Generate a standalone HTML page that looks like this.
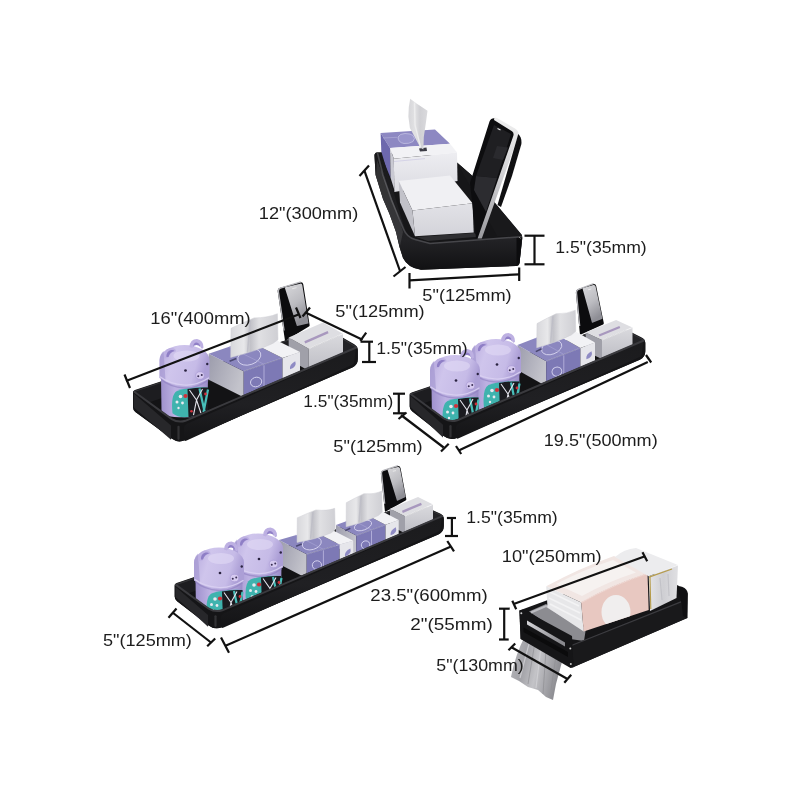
<!DOCTYPE html>
<html><head><meta charset="utf-8"><title>Shelf dimensions</title>
<style>
html,body{margin:0;padding:0;background:#fff;}
svg{display:block;}
text{font-family:"Liberation Sans",sans-serif;font-size:16.6px;fill:#1c1c1c;}
.dim line{stroke:#111;stroke-width:2.2;stroke-linecap:butt;}
</style></head>
<body>
<svg width="800" height="800" viewBox="0 0 800 800">
<defs>
<linearGradient id="g1front" x1="0" y1="0" x2="0" y2="1"><stop offset="0" stop-color="#ededf1"/><stop offset="1" stop-color="#dcdce2"/></linearGradient>
<linearGradient id="g1front2" x1="0" y1="0" x2="0" y2="1"><stop offset="0" stop-color="#e2e2e7"/><stop offset="1" stop-color="#d3d3d9"/></linearGradient>
<linearGradient id="g1tissue" x1="0" y1="0" x2="1" y2="0"><stop offset="0" stop-color="#d6d6d9"/><stop offset="0.35" stop-color="#e2e2e4"/><stop offset="0.6" stop-color="#d0d0d4"/><stop offset="1" stop-color="#dadadd"/></linearGradient>
<linearGradient id="silver" x1="0" y1="0" x2="0" y2="1"><stop offset="0" stop-color="#f0f0f0"/><stop offset="0.5" stop-color="#cfcfd2"/><stop offset="1" stop-color="#9a9a9e"/></linearGradient>
<linearGradient id="g1trayfront" x1="0" y1="0" x2="0" y2="1"><stop offset="0" stop-color="#19191b"/><stop offset="0.75" stop-color="#222225"/><stop offset="1" stop-color="#111113"/></linearGradient>
<linearGradient id="bag" x1="0" y1="0" x2="1" y2="0.3"><stop offset="0" stop-color="#b9b9bd"/><stop offset="0.35" stop-color="#a2a2a7"/><stop offset="0.6" stop-color="#c3c3c7"/><stop offset="1" stop-color="#8f8f94"/></linearGradient>
<linearGradient id="pack" x1="0" y1="0" x2="1" y2="0"><stop offset="0" stop-color="#e4e4e6"/><stop offset="0.5" stop-color="#cfcfd3"/><stop offset="1" stop-color="#e0e0e3"/></linearGradient>
<linearGradient id="bar" x1="0" y1="0" x2="1" y2="0.5"><stop offset="0" stop-color="#d8d8dc"/><stop offset="1" stop-color="#8a8a8f"/></linearGradient>

<linearGradient id="trayface" x1="0" y1="0" x2="0" y2="1"><stop offset="0" stop-color="#1b1b1d"/><stop offset="0.6" stop-color="#202023"/><stop offset="1" stop-color="#141416"/></linearGradient>
<linearGradient id="boxleft" x1="0" y1="0" x2="1" y2="0.4"><stop offset="0" stop-color="#9c9cac"/><stop offset="1" stop-color="#c3c3cb"/></linearGradient>
<linearGradient id="sbfront" x1="0" y1="0" x2="0" y2="1"><stop offset="0" stop-color="#dadade"/><stop offset="1" stop-color="#bebec5"/></linearGradient>
<linearGradient id="paper" x1="0" y1="0" x2="1" y2="0"><stop offset="0" stop-color="#d8d8dc"/><stop offset="0.28" stop-color="#e8e8ea"/><stop offset="0.42" stop-color="#c2c2c8"/><stop offset="0.6" stop-color="#e0e0e3"/><stop offset="1" stop-color="#cfcfd4"/></linearGradient>
<linearGradient id="pigbody" x1="0" y1="0" x2="1" y2="0"><stop offset="0" stop-color="#9f91cd"/><stop offset="0.3" stop-color="#bdb1e2"/><stop offset="0.75" stop-color="#b6a9dd"/><stop offset="1" stop-color="#9a8cc8"/></linearGradient>
<linearGradient id="piglid" x1="0" y1="0" x2="1" y2="0.25"><stop offset="0" stop-color="#b5a8dc"/><stop offset="0.35" stop-color="#cfc5ec"/><stop offset="0.8" stop-color="#c6bbe7"/><stop offset="1" stop-color="#ac9fd6"/></linearGradient>
<linearGradient id="screen" x1="0" y1="0" x2="0.4" y2="1"><stop offset="0" stop-color="#d9d9dc"/><stop offset="0.55" stop-color="#bcbcc1"/><stop offset="1" stop-color="#8e8e95"/></linearGradient>

</defs>
<rect width="800" height="800" fill="#fff"/>

<g id="g1">
<!-- tray silhouette -->
<path d="M374.5,156 Q374.3,152.6 377,152.4 L448,156 L457,162.5 L472,175.6 L522,235.5 L522.3,238 L519.5,263 Q519,266 516,266 L421,269.8 Q408,268 403,258 L399.5,247 L396,232 L389.5,214 L383,199 L375.6,175 Z" fill="#161618"/>
<!-- inner right wall lighter -->
<path d="M457,162.5 L472,175.6 L522,235 L520,237 L497,236 L470,186 Z" fill="#19191b"/>
<!-- tissue box -->
<path d="M380.6,133.1 L435,129.4 L450,143.7 L390,148.1 Z" fill="#8d88c2"/>
<path d="M390,148.1 L450,143.7 L457,152.5 L393.8,158.8 Z" fill="#f2f2f5"/>
<path d="M380.6,133.1 L390,148.1 L390.6,178 L381.5,156 Z" fill="#6d68ad"/>
<path d="M390,148.1 L393.8,158.8 L394.4,190 L390.6,178 Z" fill="#c9c9d2"/>
<path d="M393.8,158.8 L457,152.5 L457.5,181 L394.4,192 Z" fill="url(#g1front)"/>
<path d="M394,161.5 L425,158.6" stroke="#cfcde4" stroke-width="0.8" fill="none"/>
<!-- pattern on purple top -->
<path d="M398,137 q2,-3.5 7,-3.5 q6,0 8,2 q3,3 0,6 q-4,2.5 -9,2 q-6,-1 -6,-6.5 Z" fill="#9a96cc" stroke="#c9c7e6" stroke-width="0.7"/>
<path d="M383,138 L397,137.3" stroke="#b5b2da" stroke-width="0.6"/>
<!-- slot -->
<path d="M419,148.5 L426.5,147.5 L427,151 L420,151.5 Z" fill="#3a3a44"/>
<!-- tissue paper -->
<path d="M410.2,98.7 L416.2,103.2 L427.5,110.7 L426,122 L423.8,137 L423.4,149.5 L420.3,147.5 L409.9,128 L408.4,116.7 L408.8,107 Z" fill="url(#g1tissue)"/>
<path d="M414.5,102.5 L415,125 L420.5,147" stroke="#ededee" stroke-width="1.4" fill="none"/>
<!-- box 2 -->
<path d="M398.7,181 L450,175.5 L472.5,203.2 L412.5,210.5 Z" fill="#f0f0f3"/>
<path d="M412.5,210.5 L472.5,203.2 L473.7,232.5 L415,236.3 Z" fill="url(#g1front2)"/>
<path d="M398.7,181 L412.5,210.5 L415,236.3 L400,202.5 Z" fill="#c2c2c9"/>
<!-- floor reflection -->
<path d="M416,237 L474,233 L480,236.5 L428,241 Z" fill="#3a3a3d" opacity="0.7"/>
<!-- phone -->
<path d="M489.5,121.5 Q491,118 494.5,118.3 L514,129.5 Q517.5,131.5 516.8,135 L480.5,238 L476,238 L470,183 Z" fill="#0d0d0f"/>
<path d="M494,125 L511,134 L497,178 L476,176 Z" fill="#1f1f22"/>
<path d="M476,176 L497,178 L486,212 L474,190 Z" fill="#2c2c30"/>
<path d="M497,146 L508,147.5 L503,160 L493,158 Z" fill="#2a2a2e"/>
<path d="M497.5,128.5 L500.5,130" stroke="#e8e8e8" stroke-width="1.1"/>
<!-- silver bezel -->
<path d="M494.5,117.6 Q495.5,117.2 497,118 L515,128.5 Q519.5,131.5 518.3,136 L481.8,238.5 L477.6,238.5 L513.2,136.3 Q514.4,133 512,131.2 L494,120 Z" fill="url(#silver)"/>
<!-- phone back strip -->
<path d="M518.3,134 Q522,137.5 521.4,144 L512,176 L501,207 L497.5,205 Z" fill="#101012"/>
<!-- tray front overlay -->
<path d="M374.5,156 Q374.3,152.6 377,152.4 L381.5,152.3 L405,230 Q408,237.5 415,239 L430,243 L522,236 L522.3,238 L519.5,263 Q519,266 516,266 L421,269.8 Q408,268 403,258 L399.5,247 L396,232 L389.5,214 L383,199 L375.6,175 Z" fill="url(#g1trayfront)"/>
<!-- rim highlight -->
<path d="M377.5,153 L383,175 L391.5,200 L403.5,229 Q407,237.5 415,239.5 L430,243.5 L521.7,236.7" stroke="#46464a" stroke-width="1.6" fill="none"/>
<path d="M377,160 L384,178 L397,212 L403,232 L400,246 L396,232 L389.5,214 L383,199 L376,176 Z" fill="#fff" opacity="0.10"/>
<path d="M516.5,238 L522,237.5 L519.5,263 L516.5,265.5 Z" fill="#0c0c0e"/><path d="M519,237 L520.5,238.5" stroke="#aaa" stroke-width="0.8"/>
</g>

<g id="g2">
<path d="M133,392.6 Q133,390.6 134.9,390 L321.9,328.2 Q324.7,327.3 327.3,328.8 L354.3,344.3 Q357.8,346.3 357.8,350.3 L357.8,359 Q357.8,365 352.3,367.4 L185.3,440.1 Q178,443.3 171.6,438.6 L135.4,411.9 Q133,410.1 133,407.1 Z" fill="#131315"/>
<polygon points="135,392.1 324.7,328.8 326.7,341.3 138,406.2" fill="#1d1d20" />
<polygon points="324.7,328.8 355.8,347.8 351.8,359.4 326.7,341.3" fill="#232326" />
<path d="M134.5,391.4 L324.7,328.1" stroke="#333336" stroke-width="1.4" fill="none"/>
<path d="M324.7,328.1 L356.3,347.1" stroke="#333336" stroke-width="1.4" fill="none"/>
<path d="M277.7,291.5 Q277.3,288.5 280.2,287.7 L299.9,282.3 Q302.8,281.5 303.3,284.5 L309.6,325 Q309.8,326 308.9,326.5 L285.9,340.5 Q285,341 284.9,340 Z" fill="#0c0c0e"/>
<path d="M284.9,287.9 Q284.8,287.4 285.3,287.3 L300.1,283.7 Q302,283.2 302.3,285.2 L308.5,323 Q308.6,323.5 308.1,323.6 L297.3,325.9 Q296.8,326 296.7,325.5 Z" fill="url(#screen)"/>
<path d="M284.1,330.5 L278.4,291.6 Q278.1,288.8 280.4,288.1 L300.8,281.8" stroke="#b9b9be" stroke-width="1.3" fill="none"/>
<path d="M292.2,288.7 L296.5,287.7" stroke="#f4f4f4" stroke-width="0.7"/>
<polygon points="308.7,348.7 288.7,337.5 288.7,359.5 308.7,370.7" fill="#a0a0a9" />
<polygon points="308.7,348.7 343,333.7 323,322.5 288.7,337.5" fill="#dedee2" />
<polygon points="308.7,348.7 343,333.7 343,355.7 308.7,370.7" fill="url(#sbfront)" />
<path d="M308.7,348.7 L343,333.7" stroke="#f6f6f8" stroke-width="0.8"/>
<path d="M304.8,342.4 L328.1,332.2" stroke="#a898be" stroke-width="2.4"/>
<polygon points="243.7,371.2 208.7,353.7 208.7,379.7 243.7,397.2" fill="url(#boxleft)" />
<polygon points="243.7,371.2 282.5,357.9 247.5,340.4 208.7,353.7" fill="#8b87bf" />
<polygon points="282.5,357.9 300,351.9 265,334.4 247.5,340.4" fill="#f2f2f5" />
<polygon points="243.7,371.2 282.5,357.9 282.5,383.9 243.7,397.2" fill="#7d79b5" />
<polygon points="282.5,357.9 300,351.9 300,377.9 282.5,383.9" fill="#e6e6eb" />
<path d="M243.7,371.2 L282.5,357.9" stroke="#cfcde8" stroke-width="0.6" opacity="0.8"/>
<ellipse cx="249.3" cy="356.9" rx="11.9" ry="7.8" fill="none" stroke="#dcdaf2" stroke-width="0.8" transform="rotate(-18.9 249.3 356.9)"/>
<ellipse cx="256.1" cy="382" rx="5.7" ry="4.7" fill="none" stroke="#d4d2ee" stroke-width="0.9" transform="rotate(-18.9 256.1 382)"/>
<path d="M264,365.3 L264,390.3" stroke="#c5c3e6" stroke-width="0.7"/>
<path d="M264,364.3 L229,346.8" stroke="#a9a6d6" stroke-width="0.6"/>
<path d="M289.4,368.9 q0,-5 6.5,-7 q1,6 -6.5,7 Z" fill="#8f8bc4" transform="rotate(-9.5 292.4 365.4)"/>
<path d="M229.6,361.3 L236.3,358.5" stroke="#4a4870" stroke-width="1.6"/>
<path d="M230.7,357.4 L231,328.3 Q240,324 254.1,317.9 Q268.1,317.8 277.4,313.7 L278,339.7 L272.9,343.4 Q254.1,351.9 230.7,357.4 Z" fill="url(#paper)" stroke="#cfcfd5" stroke-width="0.5"/>
<path d="M250.3,320.7 L247.5,352.1" stroke="#bdbdc6" stroke-width="1.6" opacity="0.8"/>
<g transform="translate(184.5 345) scale(0.5 0.5)">
<path d="M-47,62 L-46,132.4 Q-46,144.4 0,144.4 Q46,144.4 46,132.4 L47,62 Z" fill="url(#pigbody)"/>
<path d="M-24,136.4 Q-28,99 -15,92 Q10,83 47,85 L47,130.4 Q30,142.4 0,144.4 Q-14,144.4 -24,136.4 Z" fill="#3fb3ae"/>
<path d="M6,88 Q25,84 47,85 L47,130.4 Q30,142.4 8,144.4 Z" fill="#1b1b20"/>
<path d="M30,87 L40,132.4 M47,89 L38,134.4" stroke="#47bdb8" stroke-width="4.5" fill="none"/>
<path d="M10,90 L24,110 L36,88 M24,110 L18,140.4 M24,110 L33,136.4" stroke="#e4e4ec" stroke-width="2.2" fill="none"/>
<circle cx="-8" cy="103" r="3.6" fill="#e9e9f0"/><circle cx="-15" cy="114" r="3" fill="#e9e9f0"/><circle cx="-4" cy="116" r="2.8" fill="#e9e9f0"/><circle cx="-12" cy="126" r="2.4" fill="#e9e9f0"/><circle cx="2" cy="102" r="4.2" fill="#d2303a"/><circle cx="42" cy="98" r="2.8" fill="#d2303a"/><circle cx="14" cy="132.4" r="2.6" fill="#d2303a"/>
<path d="M-50,66 L-50,30 A50,30 0 0 1 50,30 L50,68 Q25,83 0,82 Q-30,80 -50,66 Z" fill="url(#piglid)"/>
<path d="M-50,66 L-50,30 Q-49,18 -42,12 Q-40,40 -38,72 Z" fill="#9d8fcc" opacity="0.55"/>
<path d="M-49,63.5 Q-30,78 0,80 Q25,81 49,65.5" stroke="#d9d0f2" stroke-width="2.4" fill="none" opacity="0.9"/>
<path d="M-47,68.5 Q-30,84 0,86 Q25,87 47,70.5" stroke="#8d7fc0" stroke-width="3" fill="none" opacity="0.6"/>
<ellipse cx="4" cy="22" rx="26" ry="11" fill="#e4dcf6" opacity="0.55"/>
<path d="M-41,27 Q-43,9 -29,6 Q-17,5 -17,13 Q-29,12 -33,26 Z" fill="#bdb0e2"/><path d="M-36,24 Q-37,13 -27,10 Q-21,9 -20,12 Q-29,14 -32,24 Z" fill="#8f7fc6"/>
<path d="M10,4 Q11,-12 25,-12 Q38,-10 38,5 Q36,9 33,6 Q31,-3 24,-3 Q17,-2 16,6 Z" fill="#bdb0e2"/><path d="M17,4 Q18,-5 24,-5 Q31,-4 32,5 Q30,0 24,0 Q19,0 17,4 Z" fill="#8f7fc6"/>
<ellipse cx="31" cy="61" rx="8.5" ry="7.5" fill="#d6caf0" stroke="#a595d2" stroke-width="1.2"/><circle cx="27.5" cy="62.5" r="2" fill="#3a2f55"/><circle cx="34.5" cy="60" r="2" fill="#3a2f55"/>
<circle cx="2" cy="51" r="2.7" fill="#2a2340"/><circle cx="45.5" cy="38" r="2.4" fill="#2a2340"/>
</g>
<path d="M133,392.1 Q133,390.6 134.2,391.5 L171.5,418.1 Q178,422.8 185.4,419.7 L354.1,347.9 Q357.8,346.3 357.8,350.3 L357.8,359 Q357.8,365 352.3,367.4 L185.3,440.1 Q178,443.3 171.6,438.6 L135.4,411.9 Q133,410.1 133,407.1 Z" fill="#151517"/>
<path d="M184,428.3 Q184,425.3 186.7,424.1 L354.9,349.1 Q355.8,348.7 355.7,349.7 L354.1,362 Q353.8,364 352,364.8 L186.7,440.6 Q184,441.8 184,438.8 Z" fill="url(#trayface)"/>
<polygon points="133.8,393.6 171,425.4 171,439.8 133.8,407.6" fill="#27272a" />
<path d="M178.5,426.8 L178.5,438.8" stroke="#4a4a4e" stroke-width="2.2" opacity="0.55" stroke-linecap="round"/>
<path d="M134.2,391.8 L171.8,419.1 Q178,423 185.4,420.8 L356.3,347.5" stroke="#3a3a3e" stroke-width="2" fill="none" stroke-linecap="round"/>
</g>
<g id="g3">
<path d="M409.7,395 Q409.7,393 411.6,392.4 L612,325 Q614.8,324 617.5,325.3 L641.7,337.5 Q645.3,339.3 645.3,343.3 L645.3,351.3 Q645.3,357.3 639.8,359.7 L457.4,437.8 Q450,441 443.7,436.1 L412.1,411.3 Q409.7,409.5 409.7,406.5 Z" fill="#131315"/>
<polygon points="411.7,394.5 614.8,325.5 616.8,337.5 414.7,406.2" fill="#1d1d20" />
<polygon points="614.8,325.5 643.3,340.8 639.3,351.9 616.8,337.5" fill="#232326" />
<path d="M411.2,393.8 L614.8,324.8" stroke="#333336" stroke-width="1.4" fill="none"/>
<path d="M614.8,324.8 L643.8,340.1" stroke="#333336" stroke-width="1.4" fill="none"/>
<path d="M575.9,293 Q575.6,290 578.4,289 L592.8,284.2 Q595.6,283.2 596.2,286.1 L603.8,323 Q604,324 603.1,324.4 L580.9,334.6 Q580,335 579.9,334 Z" fill="#0c0c0e"/>
<path d="M582.6,288.7 Q582.5,288.2 583,288.1 L593.3,285.1 Q595.2,284.6 595.6,286.6 L602.4,318.2 Q602.5,318.7 602,318.9 L592.5,322.8 Q592,323 591.9,322.5 Z" fill="url(#screen)"/>
<path d="M579.7,326 L576.5,292.7 Q576.4,290.3 578,289.6 L593.6,283.5" stroke="#b9b9be" stroke-width="1.3" fill="none"/>
<path d="M588.1,289.8 L591.3,288.9" stroke="#f4f4f4" stroke-width="0.7"/>
<polygon points="602,340 585.6,332.5 585.6,351.5 602,359" fill="#a0a0a9" />
<polygon points="602,340 632.5,327.5 616.1,320 585.6,332.5" fill="#dedee2" />
<polygon points="602,340 632.5,327.5 632.5,346.5 602,359" fill="url(#sbfront)" />
<path d="M602,340 L632.5,327.5" stroke="#f6f6f8" stroke-width="0.8"/>
<path d="M599.1,335.5 L619.8,327" stroke="#a898be" stroke-width="2.4"/>
<polygon points="546.2,361.2 517.5,345 517.5,370 546.2,386.2" fill="url(#boxleft)" />
<polygon points="546.2,361.2 580.4,348 551.7,331.8 517.5,345" fill="#8b87bf" />
<polygon points="580.4,348 595,342.4 566.3,326.2 551.7,331.8" fill="#f2f2f5" />
<polygon points="546.2,361.2 580.4,348 580.4,373 546.2,386.2" fill="#7d79b5" />
<polygon points="580.4,348 595,342.4 595,367.4 580.4,373" fill="#e6e6eb" />
<path d="M546.2,361.2 L580.4,348" stroke="#cfcde8" stroke-width="0.6" opacity="0.8"/>
<ellipse cx="551.7" cy="347.6" rx="10.5" ry="6.6" fill="none" stroke="#dcdaf2" stroke-width="0.8" transform="rotate(-21.1 551.7 347.6)"/>
<ellipse cx="556.9" cy="371.6" rx="5" ry="4.5" fill="none" stroke="#d4d2ee" stroke-width="0.9" transform="rotate(-21.1 556.9 371.6)"/>
<path d="M563.8,355.4 L563.8,379.4" stroke="#c5c3e6" stroke-width="0.7"/>
<path d="M563.8,354.4 L535.1,338.2" stroke="#a9a6d6" stroke-width="0.6"/>
<path d="M585.7,358.8 q0,-5 6.5,-7 q1,6 -6.5,7 Z" fill="#8f8bc4" transform="rotate(-10.5 588.7 355.3)"/>
<path d="M535.8,351.6 L541.6,348.8" stroke="#4a4870" stroke-width="1.6"/>
<path d="M536.7,347.7 L537,323.6 Q544.4,319.5 556,313.8 Q567.6,314 575.3,310.2 L575.8,331.2 L571.4,334.9 Q556,342.8 536.7,347.7 Z" fill="url(#paper)" stroke="#cfcfd5" stroke-width="0.5"/>
<path d="M552.9,316.5 L550.6,342.9" stroke="#bdbdc6" stroke-width="1.6" opacity="0.8"/>
<g transform="translate(496 339) scale(0.5 0.5)">
<path d="M-47,62 L-46,134.7 Q-46,146.7 0,146.7 Q46,146.7 46,134.7 L47,62 Z" fill="url(#pigbody)"/>
<path d="M-24,138.7 Q-28,99 -15,92 Q10,83 47,85 L47,132.7 Q30,144.7 0,146.7 Q-14,146.7 -24,138.7 Z" fill="#3fb3ae"/>
<path d="M6,88 Q25,84 47,85 L47,132.7 Q30,144.7 8,146.7 Z" fill="#1b1b20"/>
<path d="M30,87 L40,134.7 M47,89 L38,136.7" stroke="#47bdb8" stroke-width="4.5" fill="none"/>
<path d="M10,90 L24,110 L36,88 M24,110 L18,142.7 M24,110 L33,138.7" stroke="#e4e4ec" stroke-width="2.2" fill="none"/>
<circle cx="-8" cy="103" r="3.6" fill="#e9e9f0"/><circle cx="-15" cy="114" r="3" fill="#e9e9f0"/><circle cx="-4" cy="116" r="2.8" fill="#e9e9f0"/><circle cx="-12" cy="126" r="2.4" fill="#e9e9f0"/><circle cx="2" cy="102" r="4.2" fill="#d2303a"/><circle cx="42" cy="98" r="2.8" fill="#d2303a"/><circle cx="14" cy="134.7" r="2.6" fill="#d2303a"/>
<path d="M-50,66 L-50,30 A50,30 0 0 1 50,30 L50,68 Q25,83 0,82 Q-30,80 -50,66 Z" fill="url(#piglid)"/>
<path d="M-50,66 L-50,30 Q-49,18 -42,12 Q-40,40 -38,72 Z" fill="#9d8fcc" opacity="0.55"/>
<path d="M-49,63.5 Q-30,78 0,80 Q25,81 49,65.5" stroke="#d9d0f2" stroke-width="2.4" fill="none" opacity="0.9"/>
<path d="M-47,68.5 Q-30,84 0,86 Q25,87 47,70.5" stroke="#8d7fc0" stroke-width="3" fill="none" opacity="0.6"/>
<ellipse cx="4" cy="22" rx="26" ry="11" fill="#e4dcf6" opacity="0.55"/>
<path d="M-41,27 Q-43,9 -29,6 Q-17,5 -17,13 Q-29,12 -33,26 Z" fill="#bdb0e2"/><path d="M-36,24 Q-37,13 -27,10 Q-21,9 -20,12 Q-29,14 -32,24 Z" fill="#8f7fc6"/>
<path d="M10,4 Q11,-12 25,-12 Q38,-10 38,5 Q36,9 33,6 Q31,-3 24,-3 Q17,-2 16,6 Z" fill="#bdb0e2"/><path d="M17,4 Q18,-5 24,-5 Q31,-4 32,5 Q30,0 24,0 Q19,0 17,4 Z" fill="#8f7fc6"/>
<ellipse cx="31" cy="61" rx="8.5" ry="7.5" fill="#d6caf0" stroke="#a595d2" stroke-width="1.2"/><circle cx="27.5" cy="62.5" r="2" fill="#3a2f55"/><circle cx="34.5" cy="60" r="2" fill="#3a2f55"/>
<circle cx="2" cy="51" r="2.7" fill="#2a2340"/><circle cx="45.5" cy="38" r="2.4" fill="#2a2340"/>
</g>
<g transform="translate(455 355) scale(0.5 0.5)">
<path d="M-47,62 L-46,136.9 Q-46,148.9 0,148.9 Q46,148.9 46,136.9 L47,62 Z" fill="url(#pigbody)"/>
<path d="M-24,140.9 Q-28,99 -15,92 Q10,83 47,85 L47,134.9 Q30,146.9 0,148.9 Q-14,148.9 -24,140.9 Z" fill="#3fb3ae"/>
<path d="M6,88 Q25,84 47,85 L47,134.9 Q30,146.9 8,148.9 Z" fill="#1b1b20"/>
<path d="M30,87 L40,136.9 M47,89 L38,138.9" stroke="#47bdb8" stroke-width="4.5" fill="none"/>
<path d="M10,90 L24,110 L36,88 M24,110 L18,144.9 M24,110 L33,140.9" stroke="#e4e4ec" stroke-width="2.2" fill="none"/>
<circle cx="-8" cy="103" r="3.6" fill="#e9e9f0"/><circle cx="-15" cy="114" r="3" fill="#e9e9f0"/><circle cx="-4" cy="116" r="2.8" fill="#e9e9f0"/><circle cx="-12" cy="126" r="2.4" fill="#e9e9f0"/><circle cx="2" cy="102" r="4.2" fill="#d2303a"/><circle cx="42" cy="98" r="2.8" fill="#d2303a"/><circle cx="14" cy="136.9" r="2.6" fill="#d2303a"/>
<path d="M-50,66 L-50,30 A50,30 0 0 1 50,30 L50,68 Q25,83 0,82 Q-30,80 -50,66 Z" fill="url(#piglid)"/>
<path d="M-50,66 L-50,30 Q-49,18 -42,12 Q-40,40 -38,72 Z" fill="#9d8fcc" opacity="0.55"/>
<path d="M-49,63.5 Q-30,78 0,80 Q25,81 49,65.5" stroke="#d9d0f2" stroke-width="2.4" fill="none" opacity="0.9"/>
<path d="M-47,68.5 Q-30,84 0,86 Q25,87 47,70.5" stroke="#8d7fc0" stroke-width="3" fill="none" opacity="0.6"/>
<ellipse cx="4" cy="22" rx="26" ry="11" fill="#e4dcf6" opacity="0.55"/>
<path d="M-41,27 Q-43,9 -29,6 Q-17,5 -17,13 Q-29,12 -33,26 Z" fill="#bdb0e2"/><path d="M-36,24 Q-37,13 -27,10 Q-21,9 -20,12 Q-29,14 -32,24 Z" fill="#8f7fc6"/>
<path d="M10,4 Q11,-12 25,-12 Q38,-10 38,5 Q36,9 33,6 Q31,-3 24,-3 Q17,-2 16,6 Z" fill="#bdb0e2"/><path d="M17,4 Q18,-5 24,-5 Q31,-4 32,5 Q30,0 24,0 Q19,0 17,4 Z" fill="#8f7fc6"/>
<ellipse cx="31" cy="61" rx="8.5" ry="7.5" fill="#d6caf0" stroke="#a595d2" stroke-width="1.2"/><circle cx="27.5" cy="62.5" r="2" fill="#3a2f55"/><circle cx="34.5" cy="60" r="2" fill="#3a2f55"/>
<circle cx="2" cy="51" r="2.7" fill="#2a2340"/><circle cx="45.5" cy="38" r="2.4" fill="#2a2340"/>
</g>
<path d="M409.7,394.5 Q409.7,393 410.9,393.9 L443.5,417.5 Q450,422.2 457.4,419.1 L641.6,340.9 Q645.3,339.3 645.3,343.3 L645.3,351.3 Q645.3,357.3 639.8,359.7 L457.4,437.8 Q450,441 443.7,436.1 L412.1,411.3 Q409.7,409.5 409.7,406.5 Z" fill="#151517"/>
<path d="M456,427.7 Q456,424.7 458.7,423.5 L642.4,342.1 Q643.3,341.7 643.2,342.7 L641.6,354.3 Q641.3,356.3 639.5,357.1 L458.7,438.3 Q456,439.5 456,436.5 Z" fill="url(#trayface)"/>
<polygon points="410.5,396 443,424.8 443,437.5 410.5,407" fill="#27272a" />
<path d="M450.5,426.2 L450.5,436.5" stroke="#4a4a4e" stroke-width="2.2" opacity="0.55" stroke-linecap="round"/>
<path d="M410.9,394.2 L443.8,418.5 Q450,422.4 457.4,420.2 L643.8,340.5" stroke="#3a3a3e" stroke-width="2" fill="none" stroke-linecap="round"/>
</g>
<g id="g4">
<path d="M174.7,585.7 Q174.7,583.7 176.6,583.1 L411.9,503.2 Q414.7,502.2 417.4,503.4 L440.1,513.4 Q443.8,515 443.8,519 L443.8,526 Q443.8,532 438.3,534.4 L222.4,627.1 Q215,630.3 208.7,625.4 L177.1,601.2 Q174.7,599.4 174.7,596.4 Z" fill="#131315"/>
<polygon points="176.7,585.2 414.7,503.7 416.7,515 179.7,596.3" fill="#1d1d20" />
<polygon points="414.7,503.7 441.8,516.5 437.8,526.9 416.7,515" fill="#232326" />
<path d="M176.2,584.5 L414.7,503" stroke="#333336" stroke-width="1.4" fill="none"/>
<path d="M414.7,503 L442.3,515.8" stroke="#333336" stroke-width="1.4" fill="none"/>
<path d="M380.9,474 Q380.6,471 383.5,470.2 L397.1,466.1 Q400,465.3 400.6,468.2 L406.3,499 Q406.5,500 405.6,500.5 L385.9,511.5 Q385,512 384.9,511 Z" fill="#0c0c0e"/>
<path d="M387.6,469.9 Q387.5,469.4 388,469.3 L397.7,467.1 Q399.6,466.6 400,468.6 L405.5,496.5 Q405.6,497 405.1,497.2 L397.5,500.8 Q397,501 396.9,500.5 Z" fill="url(#screen)"/>
<path d="M384.7,503.8 L381.5,473.5 Q381.4,471.3 382.9,470.7 L398,465.6" stroke="#b9b9be" stroke-width="1.3" fill="none"/>
<path d="M392.8,471.3 L395.9,470.6" stroke="#f4f4f4" stroke-width="0.7"/>
<polygon points="405,516.2 390,508.7 390,525.7 405,533.2" fill="#a0a0a9" />
<polygon points="405,516.2 433,504.4 418,496.9 390,508.7" fill="#dedee2" />
<polygon points="405,516.2 433,504.4 433,521.4 405,533.2" fill="url(#sbfront)" />
<path d="M405,516.2 L433,504.4" stroke="#f6f6f8" stroke-width="0.8"/>
<path d="M402.4,511.8 L421.4,503.8" stroke="#a898be" stroke-width="2.4"/>
<polygon points="356.2,535.5 336,525 336,547 356.2,557.5" fill="url(#boxleft)" />
<polygon points="356.2,535.5 385.5,524.8 365.3,514.3 336,525" fill="#8b87bf" />
<polygon points="385.5,524.8 398.7,520 378.5,509.5 365.3,514.3" fill="#f2f2f5" />
<polygon points="356.2,535.5 385.5,524.8 385.5,546.8 356.2,557.5" fill="#7d79b5" />
<polygon points="385.5,524.8 398.7,520 398.7,542 385.5,546.8" fill="#e6e6eb" />
<path d="M356.2,535.5 L385.5,524.8" stroke="#cfcde8" stroke-width="0.6" opacity="0.8"/>
<ellipse cx="363" cy="525.5" rx="9" ry="4.6" fill="none" stroke="#dcdaf2" stroke-width="0.8" transform="rotate(-20 363 525.5)"/>
<ellipse cx="365.6" cy="544.9" rx="4.3" ry="4" fill="none" stroke="#d4d2ee" stroke-width="0.9" transform="rotate(-20 365.6 544.9)"/>
<path d="M371.5,530.9 L371.5,551.9" stroke="#c5c3e6" stroke-width="0.7"/>
<path d="M371.5,529.9 L351.3,519.4" stroke="#a9a6d6" stroke-width="0.6"/>
<path d="M390,534.8 q0,-5 6.5,-7 q1,6 -6.5,7 Z" fill="#8f8bc4" transform="rotate(-10 393 531.3)"/>
<path d="M345.2,530.6 L350.3,528.2" stroke="#4a4870" stroke-width="1.6"/>
<path d="M346.1,526.8 L346.3,502.7 Q353.2,498.9 363.9,493.7 Q374.7,494.5 381.8,491 L382.2,512.1 L378.4,515.5 Q363.9,522.7 346.1,526.8 Z" fill="url(#paper)" stroke="#cfcfd5" stroke-width="0.5"/>
<path d="M361.1,496.3 L359,522.6" stroke="#bdbdc6" stroke-width="1.6" opacity="0.8"/>
<polygon points="306.7,554.2 279,540 279,564 306.7,578.2" fill="url(#boxleft)" />
<polygon points="306.7,554.2 339.7,544.6 312,530.4 279,540" fill="#8b87bf" />
<polygon points="339.7,544.6 353.2,540.7 325.5,526.5 312,530.4" fill="#f2f2f5" />
<polygon points="306.7,554.2 339.7,544.6 339.7,568.6 306.7,578.2" fill="#7d79b5" />
<polygon points="339.7,544.6 353.2,540.7 353.2,564.7 339.7,568.6" fill="#e6e6eb" />
<path d="M306.7,554.2 L339.7,544.6" stroke="#cfcde8" stroke-width="0.6" opacity="0.8"/>
<ellipse cx="311.8" cy="543.4" rx="9.7" ry="6.2" fill="none" stroke="#dcdaf2" stroke-width="0.8" transform="rotate(-16.2 311.8 543.4)"/>
<ellipse cx="316.9" cy="565.1" rx="4.6" ry="4.3" fill="none" stroke="#d4d2ee" stroke-width="0.9" transform="rotate(-16.2 316.9 565.1)"/>
<path d="M323.4,550.3 L323.4,573.3" stroke="#c5c3e6" stroke-width="0.7"/>
<path d="M323.4,549.3 L295.7,535.1" stroke="#a9a6d6" stroke-width="0.6"/>
<path d="M344.4,556 q0,-5 6.5,-7 q1,6 -6.5,7 Z" fill="#8f8bc4" transform="rotate(-8.1 347.4 552.5)"/>
<path d="M296.1,546.2 L301.7,544" stroke="#4a4870" stroke-width="1.6"/>
<path d="M297,542.4 L297.3,517.8 Q304.6,514.5 315.9,509.9 Q327.2,511.3 334.7,508.3 L335.2,529.8 L331,533 Q315.9,539.4 297,542.4 Z" fill="url(#paper)" stroke="#cfcfd5" stroke-width="0.5"/>
<path d="M312.9,512.3 L310.6,538.9" stroke="#bdbdc6" stroke-width="1.6" opacity="0.8"/>
<g transform="translate(258 533.5) scale(0.5 0.5)">
<path d="M-47,62 L-46,130.2 Q-46,142.2 0,142.2 Q46,142.2 46,130.2 L47,62 Z" fill="url(#pigbody)"/>
<path d="M-24,134.2 Q-28,99 -15,92 Q10,83 47,85 L47,128.2 Q30,140.2 0,142.2 Q-14,142.2 -24,134.2 Z" fill="#3fb3ae"/>
<path d="M6,88 Q25,84 47,85 L47,128.2 Q30,140.2 8,142.2 Z" fill="#1b1b20"/>
<path d="M30,87 L40,130.2 M47,89 L38,132.2" stroke="#47bdb8" stroke-width="4.5" fill="none"/>
<path d="M10,90 L24,110 L36,88 M24,110 L18,138.2 M24,110 L33,134.2" stroke="#e4e4ec" stroke-width="2.2" fill="none"/>
<circle cx="-8" cy="103" r="3.6" fill="#e9e9f0"/><circle cx="-15" cy="114" r="3" fill="#e9e9f0"/><circle cx="-4" cy="116" r="2.8" fill="#e9e9f0"/><circle cx="-12" cy="126" r="2.4" fill="#e9e9f0"/><circle cx="2" cy="102" r="4.2" fill="#d2303a"/><circle cx="42" cy="98" r="2.8" fill="#d2303a"/><circle cx="14" cy="130.2" r="2.6" fill="#d2303a"/>
<path d="M-50,66 L-50,30 A50,30 0 0 1 50,30 L50,68 Q25,83 0,82 Q-30,80 -50,66 Z" fill="url(#piglid)"/>
<path d="M-50,66 L-50,30 Q-49,18 -42,12 Q-40,40 -38,72 Z" fill="#9d8fcc" opacity="0.55"/>
<path d="M-49,63.5 Q-30,78 0,80 Q25,81 49,65.5" stroke="#d9d0f2" stroke-width="2.4" fill="none" opacity="0.9"/>
<path d="M-47,68.5 Q-30,84 0,86 Q25,87 47,70.5" stroke="#8d7fc0" stroke-width="3" fill="none" opacity="0.6"/>
<ellipse cx="4" cy="22" rx="26" ry="11" fill="#e4dcf6" opacity="0.55"/>
<path d="M-41,27 Q-43,9 -29,6 Q-17,5 -17,13 Q-29,12 -33,26 Z" fill="#bdb0e2"/><path d="M-36,24 Q-37,13 -27,10 Q-21,9 -20,12 Q-29,14 -32,24 Z" fill="#8f7fc6"/>
<path d="M10,4 Q11,-12 25,-12 Q38,-10 38,5 Q36,9 33,6 Q31,-3 24,-3 Q17,-2 16,6 Z" fill="#bdb0e2"/><path d="M17,4 Q18,-5 24,-5 Q31,-4 32,5 Q30,0 24,0 Q19,0 17,4 Z" fill="#8f7fc6"/>
<ellipse cx="31" cy="61" rx="8.5" ry="7.5" fill="#d6caf0" stroke="#a595d2" stroke-width="1.2"/><circle cx="27.5" cy="62.5" r="2" fill="#3a2f55"/><circle cx="34.5" cy="60" r="2" fill="#3a2f55"/>
<circle cx="2" cy="51" r="2.7" fill="#2a2340"/><circle cx="45.5" cy="38" r="2.4" fill="#2a2340"/>
</g>
<g transform="translate(219 547.5) scale(0.5 0.5)">
<path d="M-47,62 L-46,134.2 Q-46,146.2 0,146.2 Q46,146.2 46,134.2 L47,62 Z" fill="url(#pigbody)"/>
<path d="M-24,138.2 Q-28,99 -15,92 Q10,83 47,85 L47,132.2 Q30,144.2 0,146.2 Q-14,146.2 -24,138.2 Z" fill="#3fb3ae"/>
<path d="M6,88 Q25,84 47,85 L47,132.2 Q30,144.2 8,146.2 Z" fill="#1b1b20"/>
<path d="M30,87 L40,134.2 M47,89 L38,136.2" stroke="#47bdb8" stroke-width="4.5" fill="none"/>
<path d="M10,90 L24,110 L36,88 M24,110 L18,142.2 M24,110 L33,138.2" stroke="#e4e4ec" stroke-width="2.2" fill="none"/>
<circle cx="-8" cy="103" r="3.6" fill="#e9e9f0"/><circle cx="-15" cy="114" r="3" fill="#e9e9f0"/><circle cx="-4" cy="116" r="2.8" fill="#e9e9f0"/><circle cx="-12" cy="126" r="2.4" fill="#e9e9f0"/><circle cx="2" cy="102" r="4.2" fill="#d2303a"/><circle cx="42" cy="98" r="2.8" fill="#d2303a"/><circle cx="14" cy="134.2" r="2.6" fill="#d2303a"/>
<path d="M-50,66 L-50,30 A50,30 0 0 1 50,30 L50,68 Q25,83 0,82 Q-30,80 -50,66 Z" fill="url(#piglid)"/>
<path d="M-50,66 L-50,30 Q-49,18 -42,12 Q-40,40 -38,72 Z" fill="#9d8fcc" opacity="0.55"/>
<path d="M-49,63.5 Q-30,78 0,80 Q25,81 49,65.5" stroke="#d9d0f2" stroke-width="2.4" fill="none" opacity="0.9"/>
<path d="M-47,68.5 Q-30,84 0,86 Q25,87 47,70.5" stroke="#8d7fc0" stroke-width="3" fill="none" opacity="0.6"/>
<ellipse cx="4" cy="22" rx="26" ry="11" fill="#e4dcf6" opacity="0.55"/>
<path d="M-41,27 Q-43,9 -29,6 Q-17,5 -17,13 Q-29,12 -33,26 Z" fill="#bdb0e2"/><path d="M-36,24 Q-37,13 -27,10 Q-21,9 -20,12 Q-29,14 -32,24 Z" fill="#8f7fc6"/>
<path d="M10,4 Q11,-12 25,-12 Q38,-10 38,5 Q36,9 33,6 Q31,-3 24,-3 Q17,-2 16,6 Z" fill="#bdb0e2"/><path d="M17,4 Q18,-5 24,-5 Q31,-4 32,5 Q30,0 24,0 Q19,0 17,4 Z" fill="#8f7fc6"/>
<ellipse cx="31" cy="61" rx="8.5" ry="7.5" fill="#d6caf0" stroke="#a595d2" stroke-width="1.2"/><circle cx="27.5" cy="62.5" r="2" fill="#3a2f55"/><circle cx="34.5" cy="60" r="2" fill="#3a2f55"/>
<circle cx="2" cy="51" r="2.7" fill="#2a2340"/><circle cx="45.5" cy="38" r="2.4" fill="#2a2340"/>
</g>
<path d="M174.7,585.2 Q174.7,583.7 175.9,584.6 L208.5,607.7 Q215,612.3 222.4,609.2 L440.1,516.6 Q443.8,515 443.8,519 L443.8,526 Q443.8,532 438.3,534.4 L222.4,627.1 Q215,630.3 208.7,625.4 L177.1,601.2 Q174.7,599.4 174.7,596.4 Z" fill="#151517"/>
<path d="M221,617.8 Q221,614.8 223.7,613.6 L440.9,517.8 Q441.8,517.4 441.7,518.4 L440.1,529 Q439.8,531 438,531.8 L223.7,627.6 Q221,628.8 221,625.8 Z" fill="url(#trayface)"/>
<polygon points="175.5,586.7 208,614.9 208,626.8 175.5,596.9" fill="#27272a" />
<path d="M215.5,616.3 L215.5,625.8" stroke="#4a4a4e" stroke-width="2.2" opacity="0.55" stroke-linecap="round"/>
<path d="M175.9,584.9 L208.8,608.7 Q215,612.5 222.4,610.3 L442.3,516.2" stroke="#3a3a3e" stroke-width="2" fill="none" stroke-linecap="round"/>
</g>
<g id="g5">
<!-- hanging bag -->
<path d="M526,634 L562,652 L562.5,660 L556,684 L553,700 L546,697 L538,690 L528,687 L519,681 L511,677 Q515,655 526,634 Z" fill="url(#bag)"/>
<path d="M535,642 L528,684 M546,650 L543,694 M556,656 L551,690" stroke="#8e8e93" stroke-width="1" fill="none" opacity="0.7"/>
<path d="M530,640 L520,678 M541,647 L536,688" stroke="#d2d2d6" stroke-width="1.2" fill="none" opacity="0.8"/>
<!-- rack body: back / floor -->
<path d="M519.4,610.6 L640,566 L680,586.5 L687.5,593 L687.3,618 L573.5,667 L520.6,638.7 Z" fill="#151517"/>
<!-- bag roll inside -->
<path d="M529,611.5 L546,604 L586,628 L584,641 L570,639 Z" fill="#8c8c91"/>
<path d="M531,612.5 L546,606 L582,628" stroke="#bdbdc2" stroke-width="2" fill="none"/>
<!-- big tissue pack -->
<path d="M546.2,586.2 Q580,568 614,556 L647.5,573.5 Q612,585 581.2,602.5 Z" fill="#f1e6e3"/>
<path d="M556,584 Q585,569 613,560 L636,572.5 Q607,582 582,596 Z" fill="#f7f3f2" opacity="0.85"/>
<polygon points="546.2,586.2 581.2,602.5 583.7,631.5 547.5,607.5" fill="#e7e7e9"/>
<path d="M550,592 L579,606 M549,598 L580,613 M550,604 L581,620" stroke="#f6f6f7" stroke-width="1.6" opacity="0.8"/>
<path d="M581.2,602.5 Q612,585 647.5,573.5 L648.7,610 L583.7,631.5 Z" fill="#e8c8c1"/>
<clipPath id="c5"><path d="M581.2,602.5 Q612,585 647.5,573.5 L648.7,610 L583.7,631.5 Z"/></clipPath>
<ellipse cx="616" cy="612" rx="14.5" ry="17" fill="#f0eeee" clip-path="url(#c5)"/>
<path d="M581.2,602.5 Q612,585 647.5,573.5" stroke="#f3dcd7" stroke-width="1.2" fill="none"/>
<!-- right pack -->
<path d="M615,557 Q624,549 636,548 L678,565 L648.7,576.2 Z" fill="#ececee"/>
<path d="M648.7,576.2 L678,565.5 L676.5,598 L650,611 Z" fill="url(#pack)"/>
<path d="M649,577.2 L672,569" stroke="#b59b4a" stroke-width="1.3"/>
<path d="M650,577 L650.8,609" stroke="#b59b4a" stroke-width="1.1"/>
<path d="M660,578 L662,600 M668,574 L669,596" stroke="#bcbcc2" stroke-width="1.2" opacity="0.7"/>
<!-- front long panel -->
<path d="M571.5,645 L681.3,601.3 L687.3,618 L573.7,667 Z" fill="#19191b"/>
<path d="M572,645.3 L681,601.9" stroke="#3c3c40" stroke-width="1.2"/>
<!-- right end plate -->
<path d="M677.5,588.5 Q679,586 682,586.8 Q687.8,589 687.8,594 L687.3,618 L683,616 L681.3,601.3 Z" fill="#101012"/>
<!-- left end frame -->
<path d="M519.4,610.6 L523,609.5 L572,636 L573.5,667.5 L570.5,668 L520.6,639 Z" fill="#151517"/>
<polygon points="527,620.5 565,642.5 565,646.5 527,624.5" fill="url(#bar)"/>
<polygon points="523.5,627.5 568,652 568,657 523.5,632" fill="#0b0b0c"/>
<circle cx="521.3" cy="613.2" r="1" fill="#cfcfcf"/><circle cx="570.3" cy="648.5" r="1" fill="#cfcfcf"/><circle cx="570.8" cy="664" r="1" fill="#cfcfcf"/>
</g>


<g class="dim">
<!-- top tray -->
<line x1="364.4" y1="170.6" x2="400" y2="271"/>
<line x1="359.5" y1="176" x2="369" y2="165.5"/>
<line x1="393.5" y1="276.5" x2="405.5" y2="267"/>
<line x1="409.5" y1="280.3" x2="519.2" y2="274.3"/>
<line x1="409.5" y1="273" x2="409.5" y2="288.5"/>
<line x1="519.2" y1="267.5" x2="519.2" y2="281"/>
<line x1="534.5" y1="235.7" x2="534.5" y2="264.3"/>
<line x1="524.5" y1="235.7" x2="544.5" y2="235.7"/>
<line x1="524.5" y1="264.3" x2="544.5" y2="264.3"/>
<!-- row2 left -->
<line x1="126" y1="381" x2="298.5" y2="314.5"/>
<line x1="124.5" y1="374.5" x2="130" y2="388"/>
<line x1="296" y1="307.5" x2="300.5" y2="318"/>
<line x1="306" y1="312.7" x2="362.5" y2="339.8"/>
<line x1="302.5" y1="316.5" x2="310" y2="307.5"/>
<line x1="360.3" y1="340.8" x2="366.2" y2="332.6"/>
<line x1="369.3" y1="341.7" x2="369.3" y2="362"/>
<line x1="360.5" y1="341.7" x2="373" y2="341.7"/>
<line x1="362" y1="362" x2="376" y2="362"/>
<!-- row2 right -->
<line x1="398.8" y1="393.7" x2="398.8" y2="413.3"/>
<line x1="393" y1="393.7" x2="405" y2="393.7"/>
<line x1="393" y1="413.3" x2="405" y2="413.3"/>
<line x1="401" y1="415" x2="443.7" y2="447.5"/>
<line x1="398.5" y1="419" x2="406.5" y2="412.5"/>
<line x1="441" y1="451.5" x2="448.7" y2="443.7"/>
<line x1="458.7" y1="450.5" x2="647.8" y2="362"/>
<line x1="456" y1="446" x2="461.2" y2="454"/>
<line x1="646" y1="355" x2="651.2" y2="362.5"/>
<!-- row3 -->
<line x1="172.5" y1="612.5" x2="211" y2="642.5"/>
<line x1="168.5" y1="617.7" x2="176.5" y2="608.5"/>
<line x1="207.2" y1="646.3" x2="215.2" y2="638.5"/>
<line x1="225" y1="646" x2="451" y2="546.5"/>
<line x1="221" y1="637.5" x2="229" y2="652.7"/>
<line x1="447.3" y1="541" x2="454" y2="551.3"/>
<line x1="451.9" y1="518" x2="451.9" y2="536"/>
<line x1="446.9" y1="518" x2="456" y2="518"/>
<line x1="445" y1="536" x2="458" y2="536"/>
<!-- rack -->
<line x1="513.7" y1="604" x2="645" y2="556.3"/>
<line x1="512.3" y1="600.7" x2="516.2" y2="609.2"/>
<line x1="642.5" y1="552.3" x2="647.2" y2="561.3"/>
<line x1="504.2" y1="608.7" x2="504.2" y2="639.5"/>
<line x1="499" y1="608.7" x2="509.7" y2="608.7"/>
<line x1="499" y1="639.5" x2="508.7" y2="639.5"/>
<line x1="511" y1="647" x2="567.5" y2="679"/>
<line x1="508.5" y1="650.3" x2="515.2" y2="643.5"/>
<line x1="564.3" y1="682.7" x2="571.2" y2="674.8"/>
</g>

<g id="labels" style="filter:grayscale(1)">
<text x="258.8" y="219" textLength="99.4" lengthAdjust="spacingAndGlyphs">12"(300mm)</text>
<text x="555.3" y="252.5" textLength="91.4" lengthAdjust="spacingAndGlyphs">1.5"(35mm)</text>
<text x="422.3" y="301.2" textLength="89.4" lengthAdjust="spacingAndGlyphs">5"(125mm)</text>
<text x="150.3" y="324" textLength="100.4" lengthAdjust="spacingAndGlyphs">16"(400mm)</text>
<text x="335.3" y="316.5" textLength="89.4" lengthAdjust="spacingAndGlyphs">5"(125mm)</text>
<text x="376.3" y="354" textLength="91.4" lengthAdjust="spacingAndGlyphs">1.5"(35mm)</text>
<text x="303.3" y="407" textLength="89.9" lengthAdjust="spacingAndGlyphs">1.5"(35mm)</text>
<text x="333.3" y="452" textLength="89.4" lengthAdjust="spacingAndGlyphs">5"(125mm)</text>
<text x="543.8" y="446.2" textLength="113.9" lengthAdjust="spacingAndGlyphs">19.5"(500mm)</text>
<text x="466.3" y="523" textLength="91.4" lengthAdjust="spacingAndGlyphs">1.5"(35mm)</text>
<text x="370.3" y="600.7" textLength="117.4" lengthAdjust="spacingAndGlyphs">23.5"(600mm)</text>
<text x="501.8" y="562" textLength="99.9" lengthAdjust="spacingAndGlyphs">10"(250mm)</text>
<text x="410.3" y="630" textLength="82.4" lengthAdjust="spacingAndGlyphs">2"(55mm)</text>
<text x="436.3" y="670.5" textLength="87.4" lengthAdjust="spacingAndGlyphs">5"(130mm)</text>
<text x="103.0" y="646" textLength="88.9" lengthAdjust="spacingAndGlyphs">5"(125mm)</text>
</g>
</svg>
</body></html>
